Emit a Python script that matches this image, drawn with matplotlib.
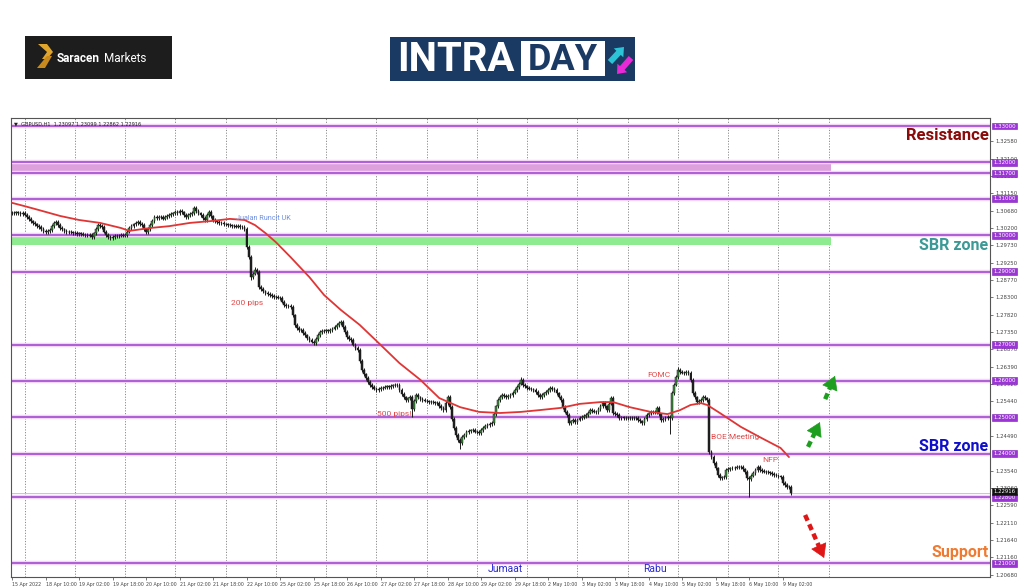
import matplotlib
matplotlib.use('Agg')
import matplotlib.pyplot as plt
import matplotlib.transforms as mtransforms
from matplotlib.patches import Rectangle, Polygon, FancyArrow
import numpy as np

# ---------------- data (GBPUSD H1) ----------------
apr15 = [1.3062, 1.3060, 1.3063, 1.3061, 1.3058, 1.3061]
apr18 = [1.3057, 1.3050, 1.3044, 1.3038, 1.3034, 1.3030, 1.3026, 1.3022, 1.3018, 1.3012, 1.3008, 1.3011,
         1.3015, 1.3026, 1.3033, 1.3037, 1.3028, 1.3020, 1.3016, 1.3012, 1.3009, 1.3010, 1.3008, 1.3007]
apr19 = [1.3006, 1.3004, 1.3005, 1.3003, 1.3002, 1.3001, 1.2999, 1.3000, 1.2995, 1.3005, 1.3018, 1.3028,
         1.3025, 1.3022, 1.3010, 1.3001, 1.2996, 1.2992, 1.2995, 1.2998, 1.2997, 1.2999, 1.3001, 1.2999]
apr20 = [1.3001, 1.3010, 1.3020, 1.3026, 1.3030, 1.3034, 1.3036, 1.3031, 1.3028, 1.3016, 1.3009, 1.3018,
         1.3028, 1.3040, 1.3050, 1.3048, 1.3051, 1.3050, 1.3046, 1.3050, 1.3053, 1.3055, 1.3058, 1.3060]
apr21 = [1.3064, 1.3062, 1.3067, 1.3063, 1.3055, 1.3050, 1.3055, 1.3058, 1.3061, 1.3075, 1.3066, 1.3060,
         1.3056, 1.3048, 1.3042, 1.3055, 1.3064, 1.3052, 1.3042, 1.3038, 1.3036, 1.3034, 1.3033, 1.3030]
apr22 = [1.3030, 1.3028, 1.3027, 1.3026, 1.3025, 1.3024, 1.3026, 1.3022, 1.3023, 1.3018, 1.2968, 1.2940,
         1.2885, 1.2895, 1.2905, 1.2899, 1.2858, 1.2852, 1.2846, 1.2841, 1.2838, 1.2836, 1.2833, 1.2831]
apr25 = [1.2830, 1.2829, 1.2828, 1.2818, 1.2809, 1.2806, 1.2805, 1.2803, 1.2780, 1.2754, 1.2746, 1.2740,
         1.2740, 1.2732, 1.2725, 1.2718, 1.2712, 1.2708, 1.2704, 1.2715, 1.2726, 1.2734, 1.2737, 1.2738]
apr26 = [1.2739, 1.2738, 1.2740, 1.2744, 1.2748, 1.2754, 1.2759, 1.2762, 1.2748, 1.2735, 1.2721, 1.2716,
         1.2712, 1.2700, 1.2690, 1.2685, 1.2655, 1.2630, 1.2618, 1.2608, 1.2598, 1.2589, 1.2583, 1.2579]
apr27 = [1.2575, 1.2578, 1.2580, 1.2582, 1.2583, 1.2585, 1.2584, 1.2586, 1.2588, 1.2590, 1.2589, 1.2575,
         1.2565, 1.2555, 1.2548, 1.2552, 1.2556, 1.2522, 1.2545, 1.2561, 1.2555, 1.2551, 1.2548, 1.2546]
apr28 = [1.2544, 1.2543, 1.2542, 1.2541, 1.2540, 1.2539, 1.2532, 1.2526, 1.2520, 1.2540, 1.2556, 1.2528,
         1.2495, 1.2471, 1.2452, 1.2438, 1.2430, 1.2446, 1.2452, 1.2460, 1.2462, 1.2464, 1.2465, 1.2461]
apr29 = [1.2459, 1.2457, 1.2465, 1.2472, 1.2476, 1.2479, 1.2482, 1.2485, 1.2510, 1.2530, 1.2548, 1.2556,
         1.2561, 1.2558, 1.2556, 1.2559, 1.2561, 1.2568, 1.2576, 1.2583, 1.2593, 1.2603, 1.2589, 1.2585]
may02 = [1.2581, 1.2579, 1.2577, 1.2575, 1.2569, 1.2562, 1.2556, 1.2561, 1.2566, 1.2570, 1.2576, 1.2581,
         1.2578, 1.2575, 1.2566, 1.2557, 1.2548, 1.2528, 1.2516, 1.2506, 1.2485, 1.2489, 1.2492, 1.2487]
may03 = [1.2494, 1.2498, 1.2501, 1.2503, 1.2506, 1.2513, 1.2520, 1.2518, 1.2516, 1.2515, 1.2523, 1.2531,
         1.2539, 1.2530, 1.2520, 1.2538, 1.2553, 1.2512, 1.2509, 1.2506, 1.2498, 1.2500, 1.2499, 1.2498]
may04 = [1.2498, 1.2499, 1.2497, 1.2498, 1.2498, 1.2493, 1.2489, 1.2485, 1.2495, 1.2506, 1.2511, 1.2515,
         1.2516, 1.2515, 1.2526, 1.2508, 1.2493, 1.2496, 1.2499, 1.2501, 1.2499, 1.2567, 1.2590, 1.2611]
may05 = [1.2630, 1.2625, 1.2623, 1.2622, 1.2624, 1.2622, 1.2603, 1.2567, 1.2555, 1.2542, 1.2545, 1.2548,
         1.2556, 1.2552, 1.2548, 1.2405, 1.2391, 1.2375, 1.2360, 1.2342, 1.2334, 1.2335, 1.2336, 1.2355]
may06 = [1.2358, 1.2360, 1.2361, 1.2362, 1.2363, 1.2365, 1.2364, 1.2357, 1.2350, 1.2334, 1.2330, 1.2340,
         1.2347, 1.2356, 1.2364, 1.2355, 1.2352, 1.2351, 1.2350, 1.2349, 1.2347, 1.2345, 1.2342, 1.2340]
may09 = [1.2338, 1.2336, 1.2320, 1.2314, 1.2309, 1.2310, 1.2292]
first_open = 1.3060

spike_highs = {21: 1.3041, 41: 1.3034, 87: 1.3080, 116: 1.2912, 157: 1.2768, 208: 1.2562,
               243: 1.2612, 286: 1.2560, 318: 1.2638}
spike_lows = {47: 1.2988, 114: 1.2878, 144: 1.2700, 191: 1.2502, 214: 1.2412, 314: 1.2455,
              352: 1.2281}

ma_bars = [0, 6, 13, 23, 32, 42, 52, 56, 66, 75, 85, 95, 104, 111, 116, 121, 126, 133, 142, 149, 157,
           166, 176, 185, 195, 204, 214, 223, 233, 243, 252, 262, 271, 281, 287, 295, 305, 313, 319,
           324, 329, 332, 338, 348, 357, 367, 371]
ma_vals = [1.3089, 1.3080, 1.3069, 1.3053, 1.3042, 1.3034, 1.3020, 1.3012, 1.3020, 1.3025, 1.3034,
           1.3039, 1.3045, 1.3042, 1.3028, 1.3006, 1.2981, 1.2940, 1.2885, 1.2836, 1.2795, 1.2754,
           1.2699, 1.2649, 1.2603, 1.2553, 1.2528, 1.2515, 1.2512, 1.2515, 1.2520, 1.2526, 1.2537,
           1.2542, 1.2542, 1.2528, 1.2515, 1.2509, 1.2520, 1.2534, 1.2539, 1.2534, 1.2512, 1.2474,
           1.2446, 1.2416, 1.2391]

levels = [1.33, 1.32, 1.317, 1.31, 1.30, 1.29, 1.27, 1.26, 1.25, 1.24, 1.228, 1.21]
level_labels = ["1.33000", "1.32000", "1.31700", "1.31000", "1.30000", "1.29000", "1.27000",
                "1.26000", "1.25000", "1.24000", "1.22800", "1.21000"]
resistance_band = (1.3170, 1.3200)
sbr_band = (1.2973, 1.3000)
last_price = 1.22916
last_label = "1.22916"

price_ticks = [1.2068, 1.2116, 1.2164, 1.2211, 1.2259, 1.2306, 1.2354,
               1.2449, 1.2544, 1.2592, 1.2639, 1.2687, 1.2735, 1.2782, 1.2830, 1.2877, 1.2925,
               1.2973, 1.3020, 1.3068, 1.3115, 1.3163, 1.3210, 1.3258]
price_tick_labels = ["1.20680", "1.21160", "1.21640", "1.22110", "1.22590", "1.23060", "1.23540",
                     "1.24490", "1.25440", "1.25920", "1.26390", "1.26870",
                     "1.27350", "1.27820", "1.28300", "1.28770", "1.29250", "1.29730", "1.30200",
                     "1.30680", "1.31150", "1.31630", "1.32100", "1.32580"]
time_labels = ["15 Apr 2022", "18 Apr 10:00", "19 Apr 02:00", "19 Apr 18:00", "20 Apr 10:00",
               "21 Apr 02:00", "21 Apr 18:00", "22 Apr 10:00", "25 Apr 02:00", "25 Apr 18:00",
               "26 Apr 10:00", "27 Apr 02:00", "27 Apr 18:00", "28 Apr 10:00", "29 Apr 02:00",
               "29 Apr 18:00", "2 May 10:00", "3 May 02:00", "3 May 18:00", "4 May 10:00",
               "5 May 02:00", "5 May 18:00", "6 May 10:00", "9 May 02:00"]
info_text = "\u25BC  GBPUSD,H1  1.23097 1.23099 1.22862 1.22916"

# ---------------- build OHLC ----------------
closes = np.array(apr15 + apr18 + apr19 + apr20 + apr21 + apr22 + apr25 + apr26 + apr27 + apr28 +
                  apr29 + may02 + may03 + may04 + may05 + may06 + may09)
n = len(closes)
opens = np.concatenate([[first_open], closes[:-1]])
WICK = 0.0005
highs = np.maximum(opens, closes) + WICK
lows = np.minimum(opens, closes) - WICK
for k, v in spike_highs.items():
    highs[k] = max(highs[k], v)
for k, v in spike_lows.items():
    lows[k] = min(lows[k], v)
bars = np.arange(n)

# ---------------- figure ----------------
W, H = 1024, 587
fig = plt.figure(figsize=(W / 100, H / 100), dpi=100)
fig.patch.set_facecolor('white')
PX = mtransforms.Affine2D().scale(1, -1).translate(0, H).scale(1 / W, 1 / H) + fig.transFigure

ax = fig.add_axes([11 / W, 1 - 577 / H, (990 - 11) / W, (577 - 118) / H])
ax.set_xlim(-0.5, 467.0)
ax.set_ylim(1.20617, 1.33220)
for s in ax.spines.values():
    s.set_color('#555555')
    s.set_linewidth(0.8)

# vertical dotted grid (day boundaries)
for gb in range(6, 391, 24):
    ax.axvline(gb, color='#8a8a8a', lw=0.7, ls=(0, (1.2, 1.6)), zorder=1)

# bands
ax.axhspan(resistance_band[0], resistance_band[1], xmin=0, xmax=(391 + 0.5) / 467.5,
           color='#DDA0DD', zorder=1.5, lw=0)
ax.axhspan(sbr_band[0], sbr_band[1], xmin=0, xmax=(391 + 0.5) / 467.5,
           color='#8FEB8F', zorder=1.5, lw=0)

# level lines
for lv in levels:
    ax.axhline(lv, color='#F3D6F5', lw=3.2, zorder=2)
    ax.axhline(lv, color='#A24BCF', lw=1.2, zorder=2.1)

# current price line
ax.axhline(last_price, color='#c8c8c8', lw=0.7, zorder=2)

# candles
up = closes >= opens
ax.vlines(bars, lows, highs, color='#1a1a1a', lw=0.7, zorder=3)
body_lo = np.minimum(opens, closes)
body_h = np.maximum(np.abs(closes - opens), 0.0001)
ax.bar(bars[up], body_h[up], bottom=body_lo[up], width=0.85, color='#3c8f3c',
       edgecolor='#1a1a1a', linewidth=0.35, zorder=3.2)
ax.bar(bars[~up], body_h[~up], bottom=body_lo[~up], width=0.85, color='#202020',
       edgecolor='#1a1a1a', linewidth=0.35, zorder=3.2)

# moving average
ax.plot(ma_bars, ma_vals, color='#E03535', lw=1.3, zorder=4, solid_capstyle='round')

# ticks
ax.yaxis.tick_right()
ax.set_yticks(price_ticks)
ax.set_yticklabels(price_tick_labels, fontsize=3.9, color='#333333')
ax.tick_params(axis='y', length=2, width=0.5, pad=2, colors='#444444')
ax.set_xticks(np.arange(0, n, 16)[:len(time_labels)])
ax.set_xticklabels(time_labels, fontsize=3.4, color='#333333')
for lbl in ax.get_xticklabels():
    lbl.set_ha('left')
ax.tick_params(axis='x', length=2, width=0.5, pad=1.5, colors='#444444')

# boxed level labels on right
blend = mtransforms.blended_transform_factory(ax.transAxes, ax.transData)
for lv, lab in zip(levels, level_labels):
    ax.text(1.0035, lv, lab, transform=blend, fontsize=3.9, color='white', va='center', ha='left',
            bbox=dict(boxstyle='square,pad=0.18', fc='#9B35D6', ec='#7A1FB0', lw=0.4),
            zorder=10, clip_on=False)
ax.text(1.0035, last_price + 0.0004, last_label, transform=blend, fontsize=3.9, color='white',
        va='center', ha='left', bbox=dict(boxstyle='square,pad=0.18', fc='#111111', ec='#111111', lw=0.4),
        zorder=10, clip_on=False)

# info text
ax.text(0.003, 0.988, info_text, transform=ax.transAxes, fontsize=3.6, color='#222222',
        va='center', ha='left')

# annotations
red = '#E24A4A'
ax.text(107, 1.3045, "Jualan Runcit UK", fontsize=5.2, color='#6F8FE0', va='center', ha='left',
        family='Roboto', zorder=5)
ax.text(104.5, 1.2814, "200 pips", fontsize=6, color=red, va='center', ha='left', family='Roboto', zorder=5)
ax.text(174.3, 1.2509, "500 pips!", fontsize=6, color=red, va='center', ha='left', family='Roboto', zorder=5)
ax.text(303.2, 1.2616, "FOMC", fontsize=6, color=red, va='center', ha='left', family='Roboto', zorder=5)
ax.text(333.8, 1.2446, "BOE Meeting", fontsize=6, color=red, va='center', ha='left', family='Roboto', zorder=5)
ax.text(358.2, 1.2383, "NFP", fontsize=6, color=red, va='center', ha='left', family='Roboto', zorder=5)
ax.text(227.3, 1.2084, "Jumaat", fontsize=7.5, color='#2B2BD0', va='center', ha='left', family='Roboto', zorder=5)
ax.text(301.3, 1.2084, "Rabu", fontsize=7.5, color='#2B2BD0', va='center', ha='left', family='Roboto', zorder=5)

ax.text(466.3, 1.3273, "Resistance", fontsize=12, color='#8B0A0A', va='center', ha='right',
        family='Roboto', weight='bold', zorder=6)
ax.text(466.3, 1.2973, "SBR zone", fontsize=11.5, color='#3C9A96', va='center', ha='right',
        family='Roboto', weight='bold', zorder=6)
ax.text(466.3, 1.2419, "SBR zone", fontsize=11.5, color='#1010CC', va='center', ha='right',
        family='Roboto', weight='bold', zorder=6)
ax.text(466.3, 1.2130, "Support", fontsize=11.5, color='#F07A30', va='center', ha='right',
        family='Roboto', weight='bold', zorder=6)

# dashed arrows: dashed shaft + solid head
def dashed_arrow(x0, y0, x1, y1, color, frac=0.72):
    xm = x0 + (x1 - x0) * frac
    ym = y0 + (y1 - y0) * frac
    ax.plot([x0, xm], [y0, ym], color=color, lw=3.2, dashes=[1.4, 0.9], solid_capstyle='butt',
            dash_capstyle='butt', zorder=7)
    ax.annotate('', xy=(x1, y1), xytext=(xm, ym),
                arrowprops=dict(arrowstyle='-|>,head_length=0.9,head_width=0.55', color=color,
                                lw=0.5, shrinkA=0, shrinkB=0, mutation_scale=10), zorder=7)

dashed_arrow(380.1, 1.2419, 385.8, 1.2487, '#1E9E1E')
dashed_arrow(388.3, 1.2550, 393.0, 1.2614, '#1E9E1E')
dashed_arrow(378.7, 1.2232, 387.8, 1.2114, '#E01515', frac=0.8)

# ---------------- logos ----------------
# Saracen Markets
fig.add_artist(Rectangle((25, 36), 147, 43, transform=PX, fc='#1D1D1D', ec='none'))
fig.add_artist(Polygon([(38, 44), (47, 44), (53, 52), (47, 59), (42, 59), (47, 52)], closed=True,
                       transform=PX, fc='#E0A52A', ec='none'))
fig.add_artist(Polygon([(47, 56), (52, 56), (45, 68), (37, 68), (42, 62)], closed=True,
                       transform=PX, fc='#C88A1E', ec='none'))
fig.text(57, 58, "Saracen", transform=PX, fontsize=8.5, color='white', weight='bold',
         family='Roboto', va='center', ha='left')
fig.text(104, 58, "Markets", transform=PX, fontsize=8.5, color='white', family='Roboto',
         va='center', ha='left')

# INTRADAY
fig.add_artist(Rectangle((390, 37), 245, 44, transform=PX, fc='#1B3A63', ec='none'))
fig.text(397, 60, "INTRA", transform=PX, fontsize=29, color='white', weight='bold',
         family='Roboto', va='center', ha='left')
fig.add_artist(Rectangle((521, 41), 84, 35, transform=PX, fc='white', ec='none'))
fig.text(563, 59.5, "DAY", transform=PX, fontsize=26, color='#1B3A63', weight='bold',
         family='Roboto', va='center', ha='center')
fig.add_artist(FancyArrow(610, 62, 14, -15, width=6, head_width=13, head_length=8,
                          length_includes_head=True, transform=PX, fc='#2CC3D6', ec='none'))
fig.add_artist(FancyArrow(631, 58, -14, 16, width=6, head_width=13, head_length=8,
                          length_includes_head=True, transform=PX, fc='#E82AD6', ec='none'))

fig.savefig('out.png', dpi=100, facecolor='white')
